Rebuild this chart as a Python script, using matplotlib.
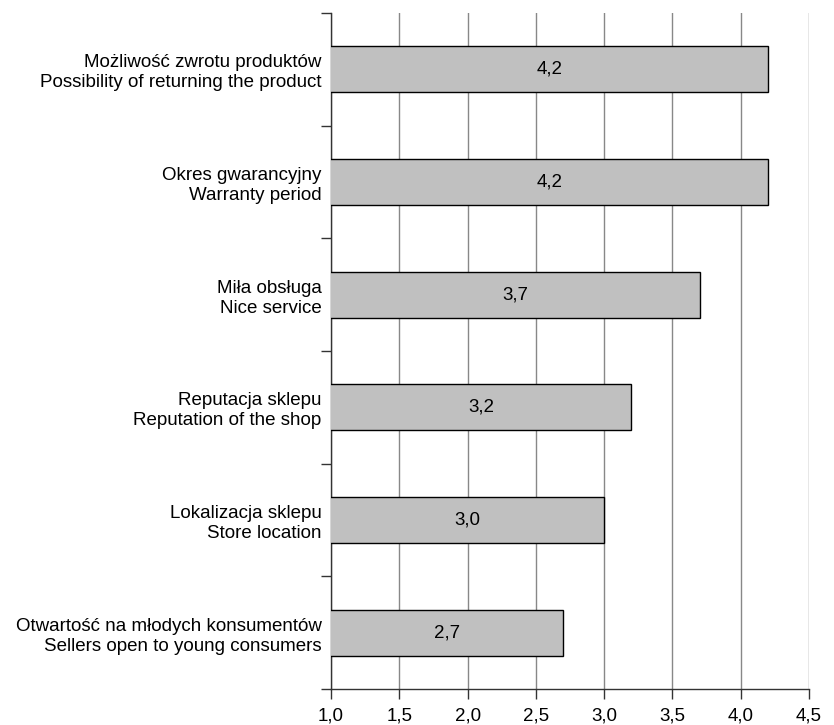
import matplotlib
matplotlib.use("Agg")
import matplotlib.pyplot as plt
import numpy as np

# ── Data ──────────────────────────────────────────────────────────────────────
LABELS_PL = [
    "Możliwość zwrotu produktów",
    "Okres gwarancyjny",
    "Miła obsługa",
    "Reputacja sklepu",
    "Lokalizacja sklepu",
    "Otwartość na młodych konsumentów",
]
LABELS_EN = [
    "Possibility of returning the product",
    "Warranty period",
    "Nice service",
    "Reputation of the shop",
    "Store location",
    "Sellers open to young consumers",
]
VALUES = [4.2, 4.2, 3.7, 3.2, 3.0, 2.7]
X_TICKS = [1.0, 1.5, 2.0, 2.5, 3.0, 3.5, 4.0, 4.5]

# ── Style ─────────────────────────────────────────────────────────────────────
plt.rcParams.update({
    "font.family": ["Liberation Sans", "DejaVu Sans"],
    "font.size": 13.5,
})
X_MIN, X_MAX = 1.0, 4.5

fig = plt.figure(figsize=(8.34, 7.25), dpi=100)
ax = fig.add_axes([0.397, 0.0497, 0.573, 0.9323])

y = np.arange(len(VALUES))
bars = ax.barh(y, VALUES, height=0.41, color="#C0C0C0",
               edgecolor="black", linewidth=1.0, zorder=3)

for yi, v in zip(y, VALUES):
    ax.text((X_MIN + v) / 2, yi, f"{v:.1f}".replace(".", ","),
            ha="center", va="center", fontsize=13.5, zorder=4)

ax.set_xlim(X_MIN, X_MAX)
ax.set_ylim(len(VALUES) - 0.5, -0.5)

ax.set_xticks(X_TICKS)
ax.set_xticklabels([f"{t:.1f}".replace(".", ",") for t in X_TICKS])
ax.set_yticks(y)
ax.set_yticklabels([f"{pl}\n{en}" for pl, en in zip(LABELS_PL, LABELS_EN)],
                   linespacing=1.22)
ax.set_yticks(np.arange(-0.5, len(VALUES)), minor=True)
ax.tick_params(axis="y", which="major", length=0, pad=7)
ax.tick_params(axis="y", which="minor", length=7, width=1.0, direction="out",
               color="#333333")
ax.tick_params(axis="x", length=7, width=1.0, direction="out",
               color="#333333", pad=6)

ax.grid(axis="x", color="#888888", linewidth=1.0, zorder=0)
ax.set_axisbelow(True)
ax.spines[["top", "right"]].set_visible(False)
for s in ["left", "bottom"]:
    ax.spines[s].set_color("#333333")
    ax.spines[s].set_linewidth(1.0)

fig.savefig("out.png", dpi=100)
